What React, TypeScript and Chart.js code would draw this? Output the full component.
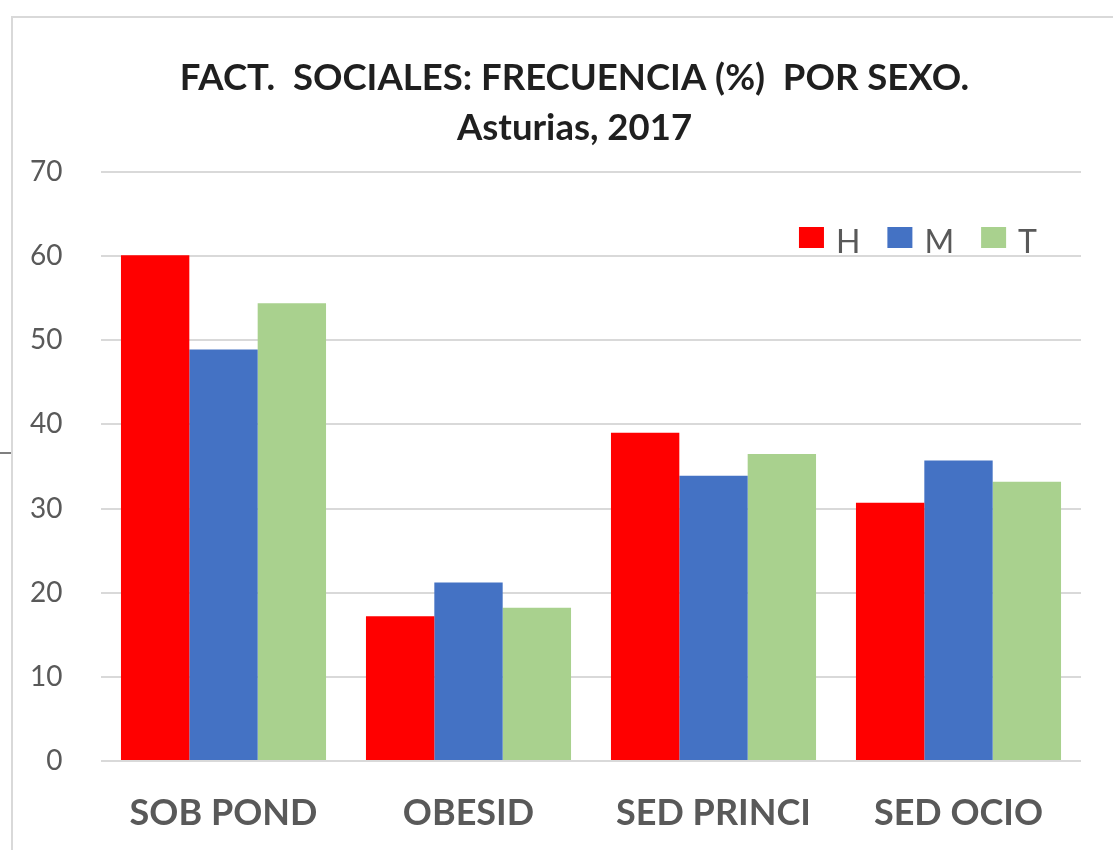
import React, { useEffect, useRef } from "react";
import { Chart, registerables } from "chart.js";

Chart.register(...registerables);

const categories = ["SOB POND", "OBESID", "SED PRINCI", "SED OCIO"];
const seriesLabels = ["H", "M", "T"];
const valuesH = [60.1, 17.2, 39.0, 30.7];
const valuesM = [48.9, 21.2, 33.9, 35.7];
const valuesT = [54.4, 18.2, 36.5, 33.2];
const seriesColors = ["#ff0000", "#4472c4", "#a9d18e"];
const titleLines = ["FACT.  SOCIALES: FRECUENCIA (%)  POR SEXO.", "Asturias, 2017"];
const yMin = 0;
const yMax = 70;
const yStep = 10;

const FONT = "Lato, 'Open Sans', sans-serif";

const customLegend = {
  id: "customLegend",
  afterDraw(chart: any) {
    const ctx = chart.ctx;
    const area = chart.chartArea;
    const datasets = chart.data.datasets;
    const boxW = 25;
    const boxH = 21;
    const gapText = 12;
    const gapItem = 27;
    ctx.save();
    ctx.font = `32px ${FONT}`;
    const widths = datasets.map((d: any) => ctx.measureText(d.label).width);
    let total = 0;
    widths.forEach((w: number, i: number) => {
      total += boxW + gapText + w + (i < widths.length - 1 ? gapItem : 0);
    });
    let x = area.right - 44 - total;
    const boxTop = area.top + 55;
    const baseline = area.top + 81;
    datasets.forEach((d: any, i: number) => {
      ctx.fillStyle = d.backgroundColor;
      ctx.fillRect(x, boxTop, boxW, boxH);
      x += boxW + gapText;
      ctx.fillStyle = "#595959";
      ctx.textAlign = "left";
      ctx.textBaseline = "alphabetic";
      ctx.fillText(d.label, x, baseline);
      x += widths[i] + gapItem;
    });
    ctx.restore();
  },
};

export default function App() {
  const canvasRef = useRef<HTMLCanvasElement | null>(null);

  useEffect(() => {
    document.body.style.margin = "0";
    document.body.style.overflow = "hidden";
    const canvas = canvasRef.current;
    if (!canvas) return;
    const seriesValues = [valuesH, valuesM, valuesT];
    const chart = new Chart(canvas, {
      type: "bar",
      data: {
        labels: categories,
        datasets: seriesLabels.map((label, i) => ({
          label,
          data: seriesValues[i],
          backgroundColor: seriesColors[i],
          borderWidth: 0,
          categoryPercentage: 0.837,
          barPercentage: 1.0,
        })),
      },
      options: {
        animation: false,
        responsive: false,
        maintainAspectRatio: false,
        layout: { padding: { left: 68, right: 32, top: 0, bottom: 15 } },
        plugins: {
          legend: { display: false },
          tooltip: { enabled: false },
          title: {
            display: true,
            text: titleLines,
            color: "#1f1f1f",
            font: { family: FONT, size: 36.5, weight: "bold", lineHeight: "50px" },
            padding: { top: 53, bottom: 19 },
          },
        },
        scales: {
          x: {
            grid: { display: false, drawTicks: false },
            border: { display: false },
            ticks: {
              color: "#595959",
              padding: 31,
              font: { family: FONT, size: 36, weight: "bold" },
              maxRotation: 0,
            },
            afterFit: (scale: any) => {
              scale.height = 74;
            },
          },
          y: {
            min: yMin,
            max: yMax,
            grid: { color: "#d9d9d9", lineWidth: 2, drawTicks: false },
            border: { display: false },
            ticks: {
              stepSize: yStep,
              color: "#595959",
              mirror: true,
              crossAlign: "far",
              padding: -71,
              font: { family: FONT, size: 28 },
            },
            afterFit: (scale: any) => {
              scale.width = 33;
            },
          },
        },
      },
      plugins: [customLegend],
    });
    return () => chart.destroy();
  }, []);

  return (
    <div
      style={{
        position: "fixed",
        left: 0,
        top: 0,
        width: 1113,
        height: 850,
        overflow: "hidden",
        background: "#ffffff",
      }}
    >
      <div
        style={{
          position: "absolute",
          left: 11,
          top: 16,
          width: 1300,
          height: 1000,
          border: "2px solid #d9d9d9",
          boxSizing: "border-box",
        }}
      />
      <div
        style={{
          position: "absolute",
          left: 0,
          top: 452,
          width: 11,
          height: 2,
          background: "#7f7f7f",
        }}
      />
      <canvas
        ref={canvasRef}
        width={1113}
        height={850}
        style={{ position: "absolute", left: 0, top: 0, width: 1113, height: 850 }}
      />
    </div>
  );
}
